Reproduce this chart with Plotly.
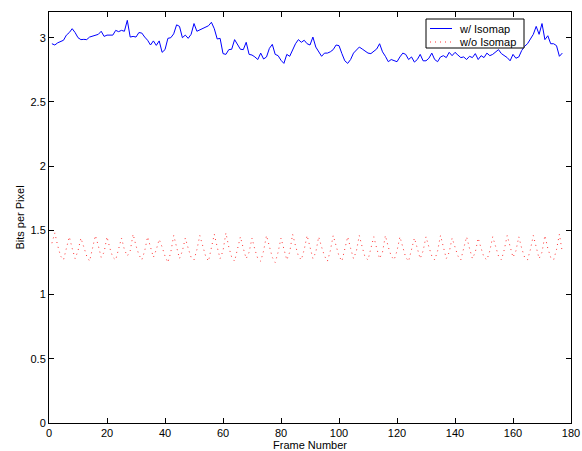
import plotly.graph_objects as go

frames = list(range(1, 178))

bpp_with_isomap = [
    2.953, 2.943, 2.960, 2.970, 2.980, 3.020, 3.040, 3.070, 3.040, 3.000,
    2.985, 2.987, 2.985, 3.005, 3.010, 3.020, 3.026, 3.050, 3.010, 3.020,
    3.018, 3.020, 3.057, 3.047, 3.057, 3.050, 3.135, 3.005, 3.010, 3.005,
    3.040, 3.036, 3.005, 2.980, 2.943, 2.975, 2.940, 2.975, 2.886, 2.907,
    2.995, 3.000, 3.030, 3.100, 3.088, 3.000, 3.020, 2.995, 3.026, 3.110,
    3.050, 3.060, 3.070, 3.080, 3.093, 3.120, 3.070, 2.990, 2.995, 2.876,
    2.870, 2.907, 2.910, 2.985, 2.948, 2.910, 2.907, 2.964, 2.870, 2.865,
    2.850, 2.830, 2.880, 2.834, 2.850, 2.917, 2.948, 2.870, 2.860, 2.824,
    2.800, 2.870, 2.855, 2.907, 2.953, 2.985, 2.964, 2.980, 2.953, 2.943,
    3.005, 2.927, 2.890, 2.855, 2.880, 2.880, 2.890, 2.907, 2.943, 2.938,
    2.876, 2.820, 2.800, 2.830, 2.880, 2.900, 2.927, 2.912, 2.896, 2.880,
    2.876, 2.896, 2.912, 2.953, 2.890, 2.855, 2.813, 2.830, 2.820, 2.813,
    2.850, 2.880, 2.870, 2.830, 2.850, 2.810, 2.830, 2.870, 2.820, 2.820,
    2.840, 2.880, 2.830, 2.813, 2.850, 2.860, 2.845, 2.886, 2.860, 2.886,
    2.865, 2.845, 2.850, 2.830, 2.855, 2.845, 2.876, 2.830, 2.860, 2.845,
    2.880, 2.860, 2.870, 2.886, 2.907, 2.876, 2.860, 2.845, 2.820, 2.870,
    2.840, 2.850, 2.900, 2.933, 2.953, 2.985, 3.026, 3.088, 3.026, 3.110,
    2.985, 3.015, 2.953, 2.953, 2.938, 2.855, 2.880,
]

bpp_without_isomap = [
    1.40, 1.48, 1.38, 1.30, 1.27, 1.36, 1.45, 1.36, 1.28, 1.34,
    1.44, 1.37, 1.30, 1.26, 1.35, 1.46, 1.38, 1.29, 1.33, 1.45,
    1.36, 1.29, 1.27, 1.35, 1.44, 1.35, 1.30, 1.34, 1.47, 1.38,
    1.31, 1.27, 1.34, 1.45, 1.36, 1.29, 1.35, 1.43, 1.37, 1.30,
    1.25, 1.33, 1.46, 1.37, 1.28, 1.34, 1.44, 1.36, 1.29, 1.27,
    1.35, 1.46, 1.38, 1.30, 1.26, 1.36, 1.47, 1.37, 1.28, 1.34,
    1.48, 1.37, 1.29, 1.26, 1.35, 1.45, 1.36, 1.28, 1.33, 1.44,
    1.35, 1.28, 1.26, 1.34, 1.46, 1.37, 1.29, 1.25, 1.33, 1.44,
    1.36, 1.27, 1.33, 1.47, 1.38, 1.30, 1.27, 1.35, 1.46, 1.36,
    1.28, 1.33, 1.45, 1.37, 1.30, 1.26, 1.34, 1.46, 1.38, 1.30,
    1.26, 1.35, 1.45, 1.36, 1.28, 1.34, 1.46, 1.37, 1.29, 1.27,
    1.35, 1.45, 1.36, 1.28, 1.33, 1.46, 1.37, 1.30, 1.27, 1.34,
    1.45, 1.37, 1.29, 1.26, 1.35, 1.44, 1.36, 1.28, 1.34, 1.45,
    1.37, 1.30, 1.27, 1.34, 1.46, 1.36, 1.28, 1.33, 1.44, 1.37,
    1.30, 1.27, 1.35, 1.45, 1.36, 1.28, 1.33, 1.44, 1.36, 1.29,
    1.27, 1.34, 1.45, 1.37, 1.30, 1.27, 1.35, 1.46, 1.37, 1.29,
    1.34, 1.45, 1.36, 1.29, 1.27, 1.35, 1.46, 1.37, 1.28, 1.33,
    1.46, 1.36, 1.29, 1.27, 1.35, 1.47, 1.33,
]

x_ticks = [0, 20, 40, 60, 80, 100, 120, 140, 160, 180]
y_ticks = [0, 0.5, 1, 1.5, 2, 2.5, 3]
y_tick_labels = ["0", "0.5", "1", "1.5", "2", "2.5", "3"]
series_names = ["w/ Isomap", "w/o Isomap"]
series_colors = ["#0000ff", "rgba(255,0,0,0.8)"]
series_dash = ["solid", "1px,4px"]

font_family = "Liberation Sans, Arial, Helvetica, sans-serif"

W, H = 582, 451
ML, MR, MT, MB = 49, 11, 12, 28
PW, PH = W - ML - MR, H - MT - MB


def px_to_paper(px, py):
    return (px - ML) / PW, (H - MB - py) / PH


fig = go.Figure()
for name, vals, col, dash in zip(series_names, [bpp_with_isomap, bpp_without_isomap],
                                 series_colors, series_dash):
    fig.add_trace(go.Scatter(
        x=frames, y=vals, mode="lines", name=name,
        line=dict(color=col, width=1, dash=dash), showlegend=False,
        hoverinfo="skip",
    ))

# manual legend (MATLAB style box)
bx0, by0 = px_to_paper(426, 19)
bx1, by1 = px_to_paper(524, 48)
shapes = [dict(type="rect", xref="paper", yref="paper", x0=bx0, x1=bx1, y0=by1, y1=by0,
               fillcolor="white", line=dict(color="black", width=1), layer="above")]
annotations = []
for i, (name, col, dash) in enumerate(zip(series_names, series_colors, series_dash)):
    row_y = 28.5 + i * 13.5
    lx0, ly = px_to_paper(430, row_y)
    lx1, _ = px_to_paper(452, row_y)
    tx, _ = px_to_paper(457, row_y)
    shapes.append(dict(type="line", xref="paper", yref="paper", x0=lx0, x1=lx1, y0=ly, y1=ly,
                       line=dict(color=col, width=1, dash=dash), layer="above"))
    annotations.append(dict(xref="paper", yref="paper", x=tx, y=ly, text=name,
                            showarrow=False, xanchor="left", yanchor="middle",
                            font=dict(family=font_family, size=11, color="black")))

axis_common = dict(
    showline=True, linecolor="black", linewidth=1, mirror="ticks",
    ticks="inside", ticklen=5, tickcolor="black", tickwidth=1,
    showgrid=False, zeroline=False, automargin=False,
    tickfont=dict(family=font_family, size=11, color="black"),
)

fig.update_layout(
    width=W, height=H,
    margin=dict(l=ML, r=MR, t=MT, b=MB),
    paper_bgcolor="white", plot_bgcolor="white",
    font=dict(family=font_family, size=11, color="black"),
    xaxis=dict(range=[0, 180], tickvals=x_ticks,
               title=dict(text="Frame Number", standoff=4,
                          font=dict(family=font_family, size=11)),
               **axis_common),
    yaxis=dict(range=[0, 3.2], tickvals=y_ticks, ticktext=y_tick_labels,
               title=dict(text="Bits per Pixel", standoff=3,
                          font=dict(family=font_family, size=11)),
               **axis_common),
    shapes=shapes,
    annotations=annotations,
    showlegend=False,
    hovermode=False,
)

# remove the default page margin so the 582x451 figure fills the window exactly
fig.write_html(
    "out.html",
    config={"displayModeBar": False, "staticPlot": True},
    post_script="document.body.style.margin='0px';"
                "document.documentElement.style.overflow='hidden';",
)
